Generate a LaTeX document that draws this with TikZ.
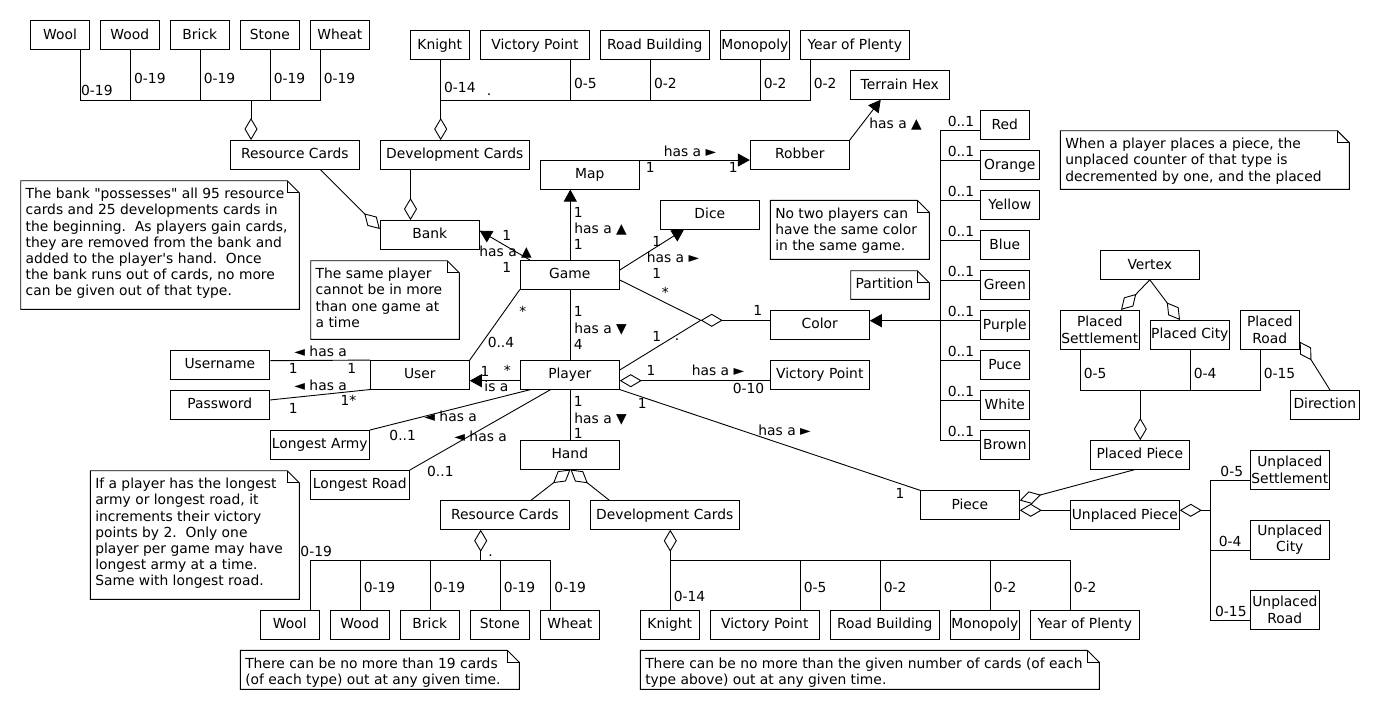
\documentclass[tikz,border=0pt]{standalone}
\usepackage{fontspec}
\newfontfamily\dvfont{DejaVu Sans}
\usetikzlibrary{arrows.meta}
\tikzset{
  tri/.tip={Triangle[length=12pt,width=13pt]},
  agg/.tip={Diamond[open,length=22pt,width=13pt]},
}
\newcommand\umlnote[6]{%
  \draw (#1,#2) -- (#3-12,#2) -- (#3,#2+12) -- (#3,#4) -- (#1,#4) -- cycle;
  \draw (#3-12,#2) -- (#3-12,#2+12) -- (#3,#2+12);
  \node[anchor=north west, inner sep=0, align=left] (#6) at (#1+4.5,#2+6.2) {\strut #5};
}
\begin{document}
\begin{tikzpicture}[x=1pt,y=-1pt, line width=0.9pt,
  every node/.style={font=\dvfont\fontsize{13.85}{16.2}\selectfont},
  cls/.style={draw, inner sep=0, minimum height=28.6pt, text height=11pt, text depth=3pt, align=center},
  clsb/.style={draw, inner sep=0, minimum height=39pt, align=center},
  lbl/.style={inner sep=0, anchor=base west},
]
\fill[white] (0,0) rectangle (1380,710);
\useasboundingbox (0,0) rectangle (1380,710);

% ---------- top resource cards
\node[cls, minimum width=58.6pt] (tWool) at (60,35) {Wool};
\node[cls, minimum width=59pt] (tWood) at (129.8,35) {Wood};
\node[cls, minimum width=59pt] (tBrick) at (199.8,35) {Brick};
\node[cls, minimum width=59pt] (tStone) at (269.8,35) {Stone};
\node[cls, minimum width=59pt] (tWheat) at (339.8,35) {Wheat};
% ---------- top development cards
\node[cls, minimum width=59pt] (tKnight) at (439.8,45) {Knight};
\node[cls, minimum width=108.6pt] (tVP) at (535,45) {Victory Point};
\node[cls, minimum width=109pt] (tRB) at (654.8,45) {Road Building};
\node[cls, minimum width=69pt] (tMono) at (754.8,45) {Monopoly};
\node[cls, minimum width=109pt] (tYoP) at (854.8,45) {Year of Plenty};

\node[cls, minimum width=129pt] (tRes) at (294.8,154.8) {Resource Cards};
\node[cls, minimum width=149pt] (tDev) at (454.8,154.8) {Development Cards};
\node[cls, minimum width=99pt] (bank) at (429.8,234.8) {Bank};
\node[cls, minimum width=99pt] (map) at (589.8,174.8) {Map};
\node[cls, minimum width=99pt] (robber) at (799.8,154.8) {Robber};
\node[cls, minimum width=99pt] (terrain) at (899.8,85) {Terrain Hex};
\node[cls, minimum width=99pt] (dice) at (709.8,214.8) {Dice};
\node[cls, minimum width=99pt] (game) at (569.8,274.8) {Game};
\node[cls, minimum width=99pt] (color) at (819.8,324.8) {Color};
\node[cls, minimum width=99pt] (player) at (569.8,374.8) {Player};
\node[cls, minimum width=99pt] (user) at (419.8,374.8) {User};
\node[cls, minimum width=99pt] (username) at (219.8,364.8) {Username};
\node[cls, minimum width=99pt] (password) at (219.8,404.8) {Password};
\node[cls, minimum width=99pt] (larmy) at (319.8,444.8) {Longest Army};
\node[cls, minimum width=99pt] (lroad) at (359.8,484.8) {Longest Road};
\node[cls, minimum width=99pt] (vp) at (819.8,374.8) {Victory Point};
\node[cls, minimum width=99pt] (hand) at (569.8,454.8) {Hand};
\node[cls, minimum width=129pt] (bRes) at (504.8,515) {Resource Cards};
\node[cls, minimum width=149pt] (bDev) at (664.8,515) {Development Cards};
\node[cls, minimum width=99pt] (piece) at (969.8,505) {Piece};
\node[cls, minimum width=109pt] (upiece) at (1124.8,515) {Unplaced Piece};
\node[cls, minimum width=99pt] (ppiece) at (1139.8,454.8) {Placed Piece};
\node[cls, minimum width=99pt] (vertex) at (1149.8,265) {Vertex};
\node[clsb, minimum width=79pt] (psettle) at (1099.8,329.8) {Placed\\Settlement};
\node[cls, minimum width=79pt] (pcity) at (1189.8,334.8) {Placed City};
\node[clsb, minimum width=59pt] (proad) at (1269.8,329.8) {Placed\\Road};
\node[cls, minimum width=69pt] (direction) at (1324.8,404.8) {Direction};
\node[clsb, minimum width=79pt] (usettle) at (1289.8,469.8) {Unplaced\\Settlement};
\node[clsb, minimum width=79pt] (ucity) at (1289.8,539.8) {Unplaced\\City};
\node[clsb, minimum width=69pt] (uroad) at (1284.8,609.8) {Unplaced\\Road};
% colours
\node[cls, minimum width=49pt] (red) at (1004.8,125) {Red};
\node[cls, minimum width=59pt] (orange) at (1009.8,165) {Orange};
\node[cls, minimum width=59pt] (yellow) at (1009.8,205) {Yellow};
\node[cls, minimum width=49pt] (blue) at (1004.8,245) {Blue};
\node[cls, minimum width=49pt] (green) at (1004.8,285) {Green};
\node[cls, minimum width=49pt] (purple) at (1004.8,325) {Purple};
\node[cls, minimum width=49pt] (puce) at (1004.8,365) {Puce};
\node[cls, minimum width=49pt] (white) at (1004.8,405) {White};
\node[cls, minimum width=49pt] (brown) at (1004.8,445) {Brown};
% bottom cards
\node[cls, minimum width=59pt] (bWool) at (289.8,624.8) {Wool};
\node[cls, minimum width=59pt] (bWood) at (359.8,624.8) {Wood};
\node[cls, minimum width=59pt] (bBrick) at (429.8,624.8) {Brick};
\node[cls, minimum width=59pt] (bStone) at (499.8,624.8) {Stone};
\node[cls, minimum width=59pt] (bWheat) at (569.8,624.8) {Wheat};
\node[cls, minimum width=59pt] (bKnight) at (669.8,624.8) {Knight};
\node[cls, minimum width=109pt] (bVP) at (764.8,624.8) {Victory Point};
\node[cls, minimum width=109pt] (bRB) at (884.8,624.8) {Road Building};
\node[cls, minimum width=69pt] (bMono) at (984.8,624.8) {Monopoly};
\node[cls, minimum width=109pt] (bYoP) at (1084.8,624.8) {Year of Plenty};

% ---------- notes
\umlnote{20.7}{180.7}{299.3}{309.3}{The bank "possesses" all 95 resource\\cards and 25 developments cards in\\the beginning.\ \ As players gain cards,\\they are removed from the bank and\\added to the player's hand.\ \ Once\\the bank runs out of cards, no more\\can be given out of that type.}{nBank}
\umlnote{310.7}{260.7}{459.3}{339.3}{The same player\\cannot be in more\\than one game at\\a time}{nSame}
\umlnote{90.3}{470.7}{299.3}{599.3}{If a player has the longest\\army or longest road, it\\increments their victory\\points by 2.\ \ Only one\\player per game may have\\longest army at a time.\\Same with longest road.}{nIf}
\umlnote{240.3}{650.3}{519.3}{689.3}{There can be no more than 19 cards\\(of each type) out at any given time.}{nNineteen}
\umlnote{640.3}{650.3}{1099.3}{689.3}{There can be no more than the given number of cards (of each\\type above) out at any given time.}{nGiven}
\umlnote{770.3}{200.3}{929.3}{259.3}{No two players can\\have the same color\\in the same game.}{nNoTwo}
\umlnote{850.7}{270.7}{929.3}{299.3}{Partition}{nPartition}
\umlnote{1060.3}{130.7}{1349.3}{189.3}{When a player places a piece, the\\unplaced counter of that type is\\decremented by one, and the placed}{nWhen}

% ---------- connectors: top resource rake
\draw (tWool.south -| 80.7,0) |- (320.7,100) -- (tWheat.south -| 320.7,0);
\foreach \n/\x in {tWood/130.3, tBrick/200.3, tStone/270.3} \draw (\n.south -| \x,0) -- (\x,100);
\draw[-agg] (251,100) -- (tRes.north -| 251,0);
% top development rake
\draw[-agg] (tKnight.south -| 440.7,0) -- (tDev.north -| 440.7,0);
\draw (440.7,100) -| (tYoP.south -| 810.3,0);
\foreach \n/\x in {tVP/570.3, tRB/650.3, tMono/760.3} \draw (\n.south -| \x,0) -- (\x,100);
% to bank
\draw[-agg] (tRes.south -| 320.3,0) -- (bank.west |- 0,229);
\draw[-agg] (tDev.south -| 410.5,0) -- (bank.north -| 410.5,0);
% map, robber, terrain
\draw[-tri] (map.north east) -- (robber.west |- map.north east);
\draw[-tri] (robber.north east) -- (terrain.south -| 880.7,0);
% game
\draw[-tri] (game.north -| 570.3,0) -- (map.south -| 570.3,0);
\draw[-tri] (game.north -| 530,0) -- (bank.east |- 0,230.7);
\draw[-tri] (game.east |- 0,270) -- (dice.south -| 684,0);
\coordinate (cdia) at (700.7,320.3);
\draw (game.east |- 0,280) -- (cdia);
\draw (player.east |- 0,370) -- (cdia);
\draw[agg-] (cdia) -- (color.west |- cdia);
\draw (game.south -| 570.3,0) -- (player.north -| 570.3,0);
\draw (game.south west) -- (user.north east);
% player
\draw[-tri] (player.west |- 0,380.7) -- (user.east |- 0,380.7);
\draw[agg-] (player.east |- 0,380.7) -- (vp.west |- 0,380.7);
\draw (player.south -| 570.3,0) -- (hand.north -| 570.3,0);
\draw (player.south east) -- (piece.north west);
\draw (player.south -| 530.7,0) -- (larmy.north east);
\draw (player.south -| 550.7,0) -- (lroad.north east);
\draw (username.east |- 0,360.7) -- (user.north west);
\draw (password.east |- 0,400) -- (user.south west);
% hand
\draw[-agg] (bRes.north -| 531,0) -- (hand.south -| 570.5,0);
\draw[-agg] (bDev.north -| 609.3,0) -- (hand.south -| 570.5,0);
% bottom resource rake
\draw[-agg] (480.7,560) -- (bRes.south -| 480.7,0);
\draw (bWool.north -| 310.3,0) |- (550.3,560) -- (bWheat.north -| 550.3,0);
\foreach \n/\x in {bWood/360.3, bBrick/430.3, bStone/500.3} \draw (\x,560) -- (\n.north -| \x,0);
% bottom development rake
\draw[-agg] (bKnight.north -| 670.3,0) -- (bDev.south -| 670.3,0);
\draw (670.3,560) -| (bYoP.north -| 1070.3,0);
\foreach \n/\x in {bVP/800.3, bRB/880.3, bMono/990.3} \draw (\x,560) -- (\n.north -| \x,0);
% vertex and placed pieces
\draw[-agg] (vertex.south) -- (psettle.north -| 1121,0);
\draw[-agg] (vertex.south) -- (pcity.north -| 1180,0);
\draw (psettle.south -| 1080.7,0) |- (1260.3,390.3) -- (proad.south -| 1260.3,0);
\draw (pcity.south -| 1190.3,0) -- (1190.3,390.3);
\draw[-agg] (1140.3,390.3) -- (ppiece.north -| 1140.3,0);
\draw[-agg] (direction.north -| 1330,0) -- (proad.east |- 0,341.7);
\draw[-agg] (ppiece.south -| 1135,0) -- (piece.east |- 0,500.5);
\draw[-agg] (upiece.west |- 0,510.3) -- (piece.east |- 0,510.3);
% unplaced rake
\draw[-agg] (1210.3,510.3) -- (upiece.east |- 0,510.3);
\draw (usettle.west |- 0,480.3) -| (1210.3,620.3) -- (uroad.west |- 0,620.3);
\draw (1210.3,550.3) -- (ucity.west |- 0,550.3);
% colours
\draw (red.west |- 0,130.7) -| (940.7,440.7) -- (brown.west |- 0,440.7);
\foreach \n/\y in {orange/160.7, yellow/200.7, blue/240.7, green/280.7, puce/360.7, white/400.7} \draw (940.7,\y) -- (\n.west |- 0,\y);
\draw[-tri] (purple.west |- 0,320.7) -- (color.east |- 0,320.7);

% ---------- labels
\node[lbl] (l1) at (80.7,95.7) {0-19};
\node[lbl] (l2) at (133.7,83.3) {0-19};
\node[lbl] (l3) at (203.3,83.3) {0-19};
\node[lbl] (l4) at (273.3,83.3) {0-19};
\node[lbl] (l5) at (323.3,83.3) {0-19};
\node[lbl] (l6) at (443.7,92.3) {0-14};
\node[lbl] (l7) at (486.5,95.5) {.};
\node[lbl] (l8) at (573.7,88.3) {0-5};
\node[lbl] (l9) at (653.7,88.3) {0-2};
\node[lbl] (l10) at (763.3,88.3) {0-2};
\node[lbl] (l11) at (813.3,88.3) {0-2};
\node[lbl] (l12) at (645.5,172) {1};
\node[lbl] (l13) at (728.5,172) {1};
\node[lbl] (l14) at (663.3,156) {has a ►};
\node[lbl] (l15) at (869,128.3) {has a ▲};
\node[lbl] (l16) at (573.5,217) {1};
\node[lbl] (l17) at (574,233.3) {has a ▲};
\node[lbl] (l18) at (573.5,249.3) {1};
\node[lbl] (l19) at (502,240.7) {1};
\node[lbl] (l20) at (479,256.7) {has a ▲};
\node[lbl] (l21) at (502,272.3) {1};
\node[lbl] (l22) at (652,246.7) {1};
\node[lbl] (l23) at (646.3,262.3) {has a ►};
\node[lbl] (l24) at (652,278.3) {1};
\node[lbl] (l25) at (661.5,297) {*};
\node[lbl] (l26) at (753,315.7) {1};
\node[lbl] (l27) at (652,341) {1};
\node[lbl] (l28) at (674.5,340.5) {.};
\node[lbl] (l29) at (573.5,316.7) {1};
\node[lbl] (l30) at (574,333.3) {has a ▼};
\node[lbl] (l31) at (573.5,349) {4};
\node[lbl] (l32) at (519,316) {*};
\node[lbl] (l33) at (487.3,347.3) {0..4};
\node[lbl] (l34) at (480.2,376.7) {1};
\node[lbl] (l35) at (503.3,375) {*};
\node[lbl] (l36) at (484,391.7) {is a};
\node[lbl] (l37) at (646.2,375.7) {1};
\node[lbl] (l38) at (691.3,375.7) {has a ►};
\node[lbl] (l39) at (732.3,393.3) {0-10};
\node[lbl] (l40) at (573.5,406.7) {1};
\node[lbl] (l41) at (574,423.3) {has a ▼};
\node[lbl] (l42) at (573.5,438.3) {1};
\node[lbl] (l43) at (637.5,408.3) {1};
\node[lbl] (l44) at (758,435) {has a ►};
\node[lbl] (l45) at (895.2,498.3) {1};
\node[lbl] (l46) at (424,421.7) {◄ has a};
\node[lbl] (l47) at (389,440) {0..1};
\node[lbl] (l48) at (454,441.7) {◄ has a};
\node[lbl] (l49) at (426.7,476.7) {0..1};
\node[lbl] (l50) at (294,356) {◄ has a};
\node[lbl] (l51) at (288.5,373.3) {1};
\node[lbl] (l52) at (346.8,373.3) {1};
\node[lbl] (l53) at (294,390) {◄ has a};
\node[lbl] (l54) at (288.5,413.3) {1};
\node[lbl] (l55) at (340.2,405.3) {1*};
\node[lbl] (l56) at (300,556) {0-19};
\node[lbl] (l57) at (488,556.5) {.};
\node[lbl] (l58) at (363.3,592.7) {0-19};
\node[lbl] (l59) at (433.3,592.7) {0-19};
\node[lbl] (l60) at (503.3,592.7) {0-19};
\node[lbl] (l61) at (554,592.7) {0-19};
\node[lbl] (l62) at (673.3,601.7) {0-14};
\node[lbl] (l63) at (803.3,592.7) {0-5};
\node[lbl] (l64) at (883.3,592.7) {0-2};
\node[lbl] (l65) at (993.3,592.7) {0-2};
\node[lbl] (l66) at (1073.3,592.7) {0-2};
\node[lbl] (l67) at (1083.3,378.3) {0-5};
\node[lbl] (l68) at (1193.3,378.3) {0-4};
\node[lbl] (l69) at (1263.3,378.3) {0-15};
\node[lbl] (l70) at (1220,476.5) {0-5};
\node[lbl] (l71) at (1218.3,546) {0-4};
\node[lbl] (l72) at (1214.7,616.7) {0-15};
\foreach \y [count=\i] in {126.2,156.2,196.2,236.2,276.2,316.2,356.2,396.2,436.2}
  \node[lbl] (c\i) at (947.3,\y) {0..1};
\end{tikzpicture}
\end{document}
